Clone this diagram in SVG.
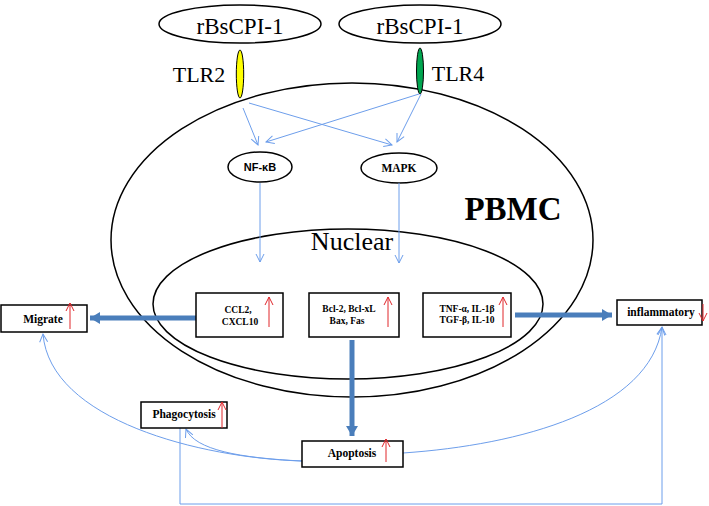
<svg xmlns="http://www.w3.org/2000/svg" width="709" height="506" viewBox="0 0 709 506">
<defs>
<marker id="thin" markerUnits="userSpaceOnUse" markerWidth="12" markerHeight="12" refX="9" refY="5" orient="auto">
<path d="M1,1 L9,5 L1,9" fill="none" stroke="#6d9eeb" stroke-width="1"/>
</marker>
<marker id="red" markerUnits="userSpaceOnUse" markerWidth="12" markerHeight="12" refX="9" refY="5" orient="auto">
<path d="M1,1 L9,5 L1,9" fill="none" stroke="#e0262b" stroke-width="1"/>
</marker>
<marker id="thick" markerUnits="userSpaceOnUse" markerWidth="14" markerHeight="14" refX="10" refY="6" orient="auto">
<path d="M0,0 L10,6 L0,12 Z" fill="#4a7ebb"/>
</marker>
</defs>
<style>
.ell{fill:none;stroke:#000;stroke-width:1.5}
.box{fill:#fff;stroke:#000;stroke-width:1.5}
.ser{font-family:"Liberation Serif","Times New Roman",serif;fill:#000}
.lbl{font-family:"Liberation Serif","Times New Roman",serif;font-weight:bold;font-size:11.5px;text-anchor:middle}
.sm{font-family:"Liberation Serif","Times New Roman",serif;font-weight:bold;font-size:9.5px;text-anchor:middle}
.thin{fill:none;stroke:#6d9eeb;stroke-width:1;marker-end:url(#thin)}
.thick{fill:none;stroke:#4a7ebb;stroke-width:5;marker-end:url(#thick)}
.up{stroke:#e0262b;stroke-width:1;marker-end:url(#red)}
</style>

<g id="pbmc">
<ellipse class="ell" cx="352" cy="240" rx="241" ry="157"/>
<text class="ser" x="513" y="220" font-size="33" font-weight="bold" text-anchor="middle">PBMC</text>
</g>
<g id="nuclear">
<ellipse class="ell" cx="348" cy="304" rx="195" ry="75"/>
<text class="ser" x="352" y="250" font-size="26" text-anchor="middle">Nuclear</text>
</g>

<g id="rbscpi1-left">
<ellipse class="ell" cx="240" cy="24" rx="81" ry="19"/>
<text class="ser" x="240" y="34" font-size="23" text-anchor="middle">rBsCPI-1</text>
</g>
<g id="rbscpi1-right">
<ellipse class="ell" cx="420" cy="24" rx="81" ry="19"/>
<text class="ser" x="420" y="34" font-size="23" text-anchor="middle">rBsCPI-1</text>
</g>
<g id="tlr2">
<ellipse cx="240" cy="74" rx="3.7" ry="24" fill="#ffff00" stroke="#000" stroke-width="1"/>
<text class="ser" x="199" y="82" font-size="22" text-anchor="middle">TLR2</text>
</g>
<g id="tlr4">
<ellipse cx="420" cy="71" rx="3.5" ry="23" fill="#00a650" stroke="#000" stroke-width="1"/>
<text class="ser" x="458" y="81" font-size="22" text-anchor="middle">TLR4</text>
</g>

<g id="nfkb">
<ellipse class="ell" cx="260" cy="167" rx="32" ry="15"/>
<text x="260" y="171" font-family="Liberation Sans, Arial, sans-serif" font-weight="bold" font-size="11" text-anchor="middle">NF-κB</text>
</g>
<g id="mapk">
<ellipse class="ell" cx="399" cy="168" rx="38" ry="15"/>
<text class="lbl" x="399" y="172">MAPK</text>
</g>

<g id="connectors">
<path class="thin" d="M243,108 L258,145"/>
<path class="thin" d="M249,103 L392,145"/>
<path class="thin" d="M419,94 L266,142"/>
<path class="thin" d="M421,94 L397,142"/>
<path class="thin" d="M260,183 L260,262"/>
<path class="thin" d="M399,183 L399,263"/>
<path class="thick" d="M196,318 L90,318"/>
<path class="thick" d="M515,315 L612,315"/>
<path class="thick" d="M352,340 L352,436"/>
<path class="thin" d="M302,461 C200,458 50,420 43,334"/>
<path class="thin" d="M302,461 C240,458 195,450 186,429"/>
<path class="thin" d="M403,453 C520,445 650,410 662,327"/>
<path class="thin" d="M180,428 L180,504 L662,504 L662,327"/>
</g>

<g id="ccl2">
<rect class="box" x="196" y="293" width="87" height="44"/>
<text class="sm" x="238" y="313">CCL2,</text>
<text class="sm" x="240" y="325">CXCL10</text>
<line class="up" x1="269" y1="327" x2="269" y2="297"/>
</g>
<g id="bcl2">
<rect class="box" x="309" y="293" width="90" height="44"/>
<text class="sm" x="349" y="312">Bcl-2, Bcl-xL</text>
<text class="sm" x="347" y="324">Bax, Fas</text>
<line class="up" x1="388" y1="327" x2="388" y2="297"/>
</g>
<g id="tnf">
<rect class="box" x="423" y="293" width="88" height="44"/>
<text class="sm" x="467" y="312">TNF-α, IL-1β</text>
<text class="sm" x="467" y="323">TGF-β, IL-10</text>
<line class="up" x1="503" y1="327" x2="503" y2="297"/>
</g>
<g id="migrate">
<rect class="box" x="1" y="305" width="86" height="27"/>
<text class="lbl" x="43" y="323">Migrate</text>
<line class="up" x1="70" y1="329" x2="70" y2="303"/>
</g>
<g id="inflammatory">
<rect class="box" x="617" y="300" width="85" height="25"/>
<text class="lbl" x="661" y="316">inflammatory</text>
<line class="up" x1="703" y1="304" x2="703" y2="321"/>
</g>
<g id="phagocytosis">
<rect class="box" x="141" y="402" width="86" height="26"/>
<text class="lbl" x="184" y="418">Phagocytosis</text>
<line class="up" x1="222" y1="428" x2="222" y2="402"/>
</g>
<g id="apoptosis">
<rect class="box" x="302" y="441" width="101" height="26"/>
<text class="lbl" x="352" y="457">Apoptosis</text>
<line class="up" x1="386" y1="462" x2="386" y2="439"/>
</g>
</svg>
